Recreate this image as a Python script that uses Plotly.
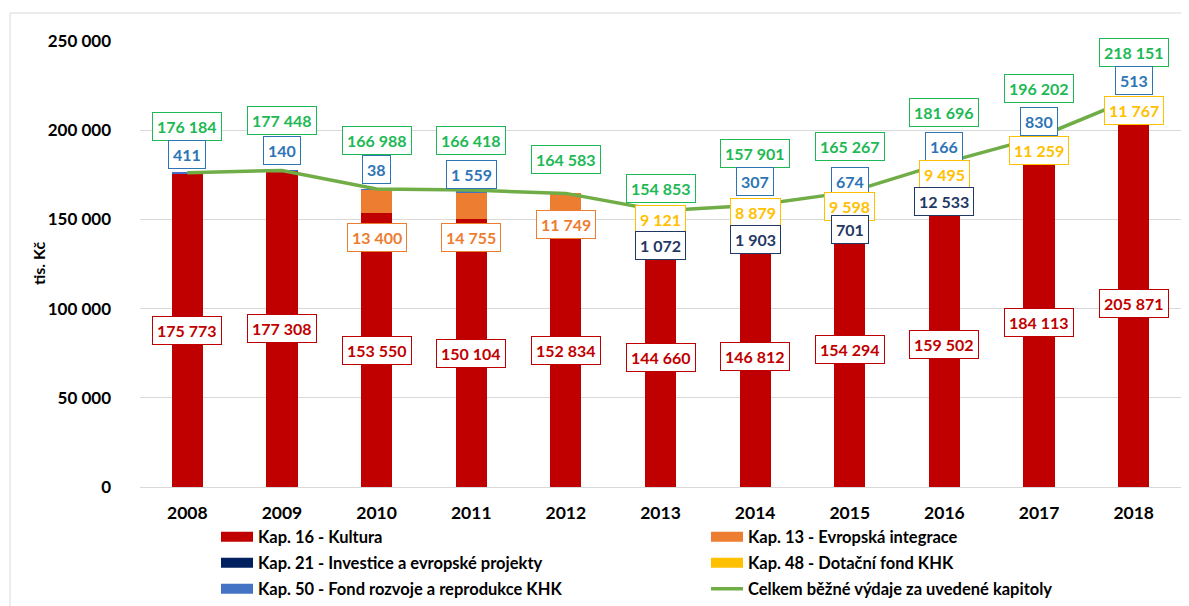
import plotly.graph_objects as go

years = ["2008", "2009", "2010", "2011", "2012", "2013", "2014", "2015", "2016", "2017", "2018"]

kap16 = [175773, 177308, 153550, 150104, 152834, 144660, 146812, 154294, 159502, 184113, 205871]
kap13 = [None, None, 13400, 14755, 11749, None, None, None, None, None, None]
kap21 = [None, None, None, None, None, 1072, 1903, 701, 12533, None, None]
kap48 = [None, None, None, None, None, 9121, 8879, 9598, 9495, 11259, 11767]
kap50 = [411, 140, 38, 1559, None, None, 307, 674, 166, 830, 513]
celkem = [176184, 177448, 166988, 166418, 164583, 154853, 157901, 165267, 181696, 196202, 218151]

names = {
    "k16": "Kap. 16 - Kultura",
    "k13": "Kap. 13 - Evropská integrace",
    "k21": "Kap. 21 - Investice a evropské projekty",
    "k48": "Kap. 48 - Dotační fond KHK",
    "k50": "Kap. 50 - Fond rozvoje a reprodukce KHK",
    "tot": "Celkem běžné výdaje za uvedené kapitoly",
}

# bar colours / label text colours
colors = {"k16": "#C00000", "k13": "#ED7D31", "k21": "#002060", "k48": "#FFC000", "k50": "#4472C4", "tot": "#70AD47"}
label_colors = {"k16": "#C00000", "k13": "#ED7D31", "k21": "#1F3864", "k48": "#FFC000", "k50": "#2E75B6", "tot": "#1DB954"}

# where the moved data labels sit (in tis. Kč), as in the original chart
label_y = {
    "tot": [202300, 205700, 194500, 194500, 183300, 167600, 187200, 190600, 210200, 223600, 243800],
    "k50": [186600, 188900, 177700, 174900, None, None, 171000, 171000, 190600, 205100, 227600],
    "k13": [None, None, 139600, 139600, 146900, None, None, None, None, None, None],
    "k48": [None, None, None, None, None, 150200, 154100, 157500, 175400, 188900, 211300],
    "k21": [None, None, None, None, None, 135600, 139000, 144600, 160300, None, None],
}

FONT = "Lato"
W, H = 1189, 606
L, R, T, B = 132, 16, 33, 127

def fmt(v):
    return f"{v:,}".replace(",", " ")

fig = go.Figure()

series = [("k16", kap16), ("k13", kap13), ("k21", kap21), ("k48", kap48), ("k50", kap50)]
for key, vals in series:
    fig.add_trace(go.Bar(
        x=years, y=[v if v is not None else 0 for v in vals],
        marker=dict(color=colors[key], line=dict(width=0)),
        name=names[key], showlegend=False, hoverinfo="y+name",
    ))

fig.add_trace(go.Scatter(
    x=years, y=celkem, mode="lines",
    line=dict(color=colors["tot"], width=3.5),
    name=names["tot"], showlegend=False,
))

# legend entries (wide colour strips like the original), one small legend per entry
legend_pos = {  # key: (legend id, left px, row centre px)
    "k16": ("legend", 208, 529), "k13": ("legend2", 698, 529),
    "k21": ("legend3", 208, 555), "k48": ("legend4", 698, 555),
    "k50": ("legend5", 208, 581), "tot": ("legend6", 698, 581),
}
for key, (lg, _, _) in legend_pos.items():
    fig.add_trace(go.Scatter(
        x=[None], y=[None], mode="lines",
        line=dict(color=colors[key], width=3.5 if key == "tot" else 10),
        name=names[key], legend=lg, showlegend=True,
    ))

legends = {}
for key, (lg, px, py) in legend_pos.items():
    legends[lg] = dict(
        orientation="v", xref="container", yref="container", xanchor="left", yanchor="middle",
        x=px / W, y=(H - py) / H, itemwidth=32,
        font=dict(family=FONT, size=16.5, color="#000000", weight="bold"),
        bgcolor="rgba(0,0,0,0)",
    )

# data labels
annotations = []
def box(i, y, text, key):
    annotations.append(dict(
        x=i, y=y, xref="x", yref="y", text=text, showarrow=False,
        font=dict(family=FONT, size=16, color=label_colors[key], weight="bold"),
        bgcolor="white", bordercolor=label_colors[key], borderwidth=1, borderpad=4,
    ))

for i in range(len(years)):
    box(i, kap16[i] / 2, fmt(kap16[i]), "k16")
    box(i, label_y["tot"][i], fmt(celkem[i]), "tot")
    for key, vals in (("k50", kap50), ("k13", kap13), ("k48", kap48), ("k21", kap21)):
        if vals[i] is not None:
            box(i, label_y[key][i], fmt(vals[i]), key)

pw = W - L - R
ph = H - T - B
annotations.append(dict(
    xref="paper", yref="paper", x=(30 - L) / pw, y=0.5, xanchor="center", yanchor="middle",
    text="tis. Kč", textangle=-90,
    showarrow=False, font=dict(family=FONT, size=16, color="#000000", weight="bold"),
))

fig.update_layout(
    width=W, height=H,
    margin=dict(l=L, r=R, t=T, b=B, autoexpand=False),
    paper_bgcolor="white", plot_bgcolor="white",
    barmode="stack", bargap=0.67,
    annotations=annotations,
    xaxis=dict(
        type="category", categoryorder="array", categoryarray=years, range=[-0.5, 10.5],
        showgrid=False, showline=True, linecolor="#D9D9D9", linewidth=1,
        ticks="", tickfont=dict(family=FONT, size=17.5, color="#000000", weight="bold"),
        ticklabelstandoff=10, automargin=False,
    ),
    yaxis=dict(
        range=[0, 250000], tickvals=[0, 50000, 100000, 150000, 200000, 250000],
        ticktext=[fmt(v) for v in [0, 50000, 100000, 150000, 200000, 250000]],
        showgrid=True, gridcolor="#D9D9D9", gridwidth=1, zeroline=False,
        tickfont=dict(family=FONT, size=17, color="#000000", weight="bold"),
        ticklabelstandoff=28, automargin=False,
    ),
    shapes=[
        dict(type="line", xref="paper", yref="paper", x0=(2 - L) / pw, x1=1.05, y0=(H - B - 5) / ph, y1=(H - B - 5) / ph,
             line=dict(color="#D9D9D9", width=1)),
        dict(type="line", xref="paper", yref="paper", x0=(2 - L) / pw, x1=(2 - L) / pw, y0=(H - B - 5) / ph, y1=-0.4,
             line=dict(color="#D9D9D9", width=1)),
    ],
    **legends,
)

fig.write_html("out.html")
